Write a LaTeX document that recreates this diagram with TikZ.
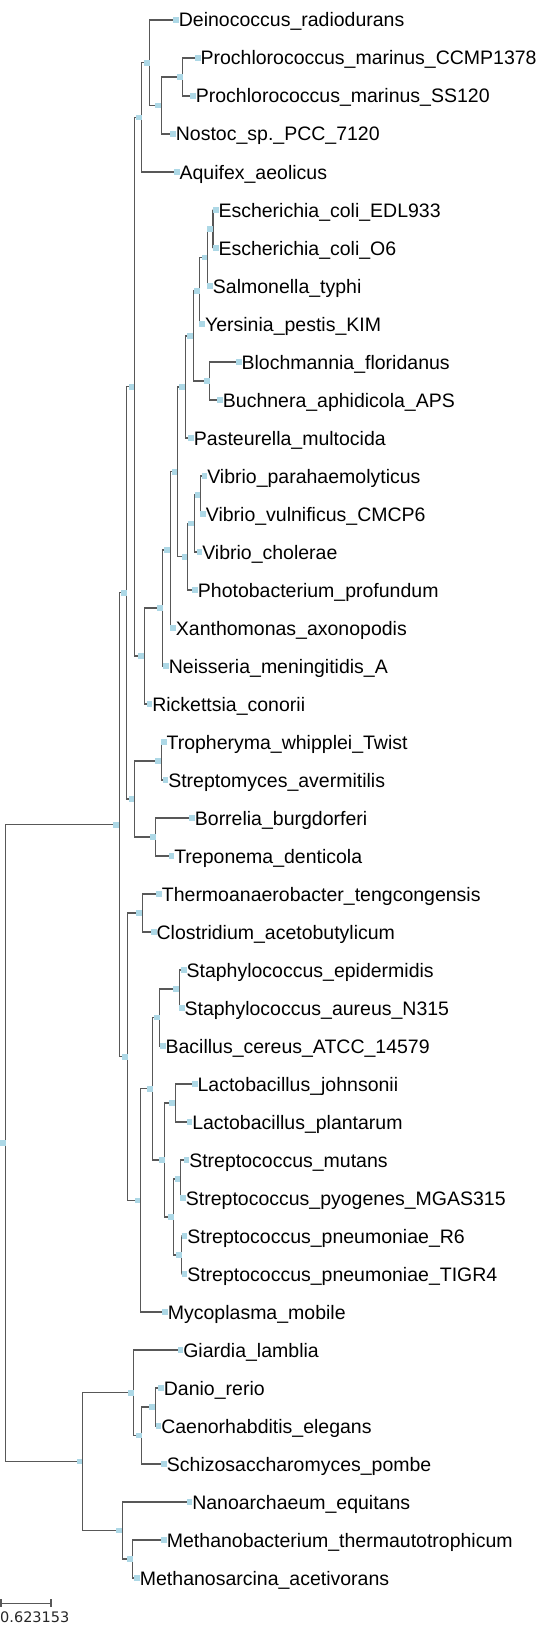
\documentclass[tikz,border=0pt]{standalone}
\usepackage{fontspec}
\setmainfont{Liberation Sans}
\newfontfamily\scalefnt{DejaVu Sans}
\usetikzlibrary{calc}
\definecolor{mkcol}{RGB}{173,216,230}
\definecolor{brcol}{RGB}{88,88,88}
\pgfdeclarelayer{bg}
\pgfsetlayers{bg,main}
\newcommand\leaf[4]{\node[mk] (#1) at (#2+2.75,#3) {};\node[lbl] (t#1) at ([yshift=-7pt]#1.east) {#4};}
\newcommand\inode[3]{\node[mk] (#1) at (#2-2.75,#3) {};}
\newcommand\br[2]{\begin{pgfonlayer}{bg}\draw[br] (#1.east) |- (#2.west);\end{pgfonlayer}}
\begin{document}
\begin{tikzpicture}[x=1pt,y=-1pt,
  mk/.style={fill=mkcol,draw=none,minimum size=5.7pt,inner sep=0pt,outer sep=0pt},
  lbl/.style={anchor=base west,inner sep=0pt,outer sep=0pt,font=\fontsize{19.5}{20}\selectfont},
  br/.style={draw=brcol,line width=1.2pt}]
\useasboundingbox (0,0) rectangle (538,1648);
% internal nodes
\inode{nroot}{5.7}{1143.2}
\inode{nbact}{119}{824.8}
\inode{nU}{126.7}{592.8}
\inode{nUa}{134.3}{386.7}
\inode{nB}{141.7}{117.4}
\inode{nA}{149.7}{62.75}
\inode{nN}{161}{105.5}
\inode{nP}{182.7}{77}
\inode{nR}{144}{656}
\inode{nG}{162.7}{608}
\inode{nGX}{170}{549.9}
\inode{nGG}{177.3}{471.8}
\inode{nEP}{185}{386.9}
\inode{nEN}{193}{335.9}
\inode{nY}{199.5}{290.75}
\inode{nS}{207.3}{257.5}
\inode{nE}{212.9}{229}
\inode{nBB}{209.7}{381}
\inode{nVP}{187.3}{556.75}
\inode{nV}{194}{523.5}
\inode{nVV}{200.3}{495}
\inode{nUb}{134.3}{799}
\inode{nTS}{161}{761}
\inode{nBT}{155.7}{837}
\inode{nLo}{127.7}{1056.7}
\inode{nTC}{142}{913}
\inode{nF}{140.3}{1200.4}
\inode{nK}{152.7}{1088.75}
\inode{nSB}{159.7}{1017.5}
\inode{nSt}{179}{989}
\inode{nLS}{164.7}{1160}
\inode{nLa}{175}{1103}
\inode{nST}{173.7}{1217}
\inode{nSMP}{180.3}{1179}
\inode{nPN}{181.7}{1255}
\inode{nEA}{82.3}{1461.6}
\inode{nEuk}{133.7}{1392.75}
\inode{nDCS}{141.7}{1435.5}
\inode{nDC}{155}{1407}
\inode{nAr}{122}{1530.5}
\inode{nMM}{132.7}{1559}
% leaves
\leaf{dein}{173.3}{20}{Deinococcus\_radiodurans}
\leaf{pcc}{195}{58}{Prochlorococcus\_marinus\_CCMP1378}
\leaf{pss}{190.3}{96}{Prochlorococcus\_marinus\_SS120}
\leaf{nos}{170.3}{134}{Nostoc\_sp.\_PCC\_7120}
\leaf{aqu}{174}{172}{Aquifex\_aeolicus}
\leaf{edl}{212.9}{210}{Escherichia\_coli\_EDL933}
\leaf{oSix}{212.9}{248}{Escherichia\_coli\_O6}
\leaf{sal}{207.3}{286}{Salmonella\_typhi}
\leaf{yer}{199.5}{324}{Yersinia\_pestis\_KIM}
\leaf{blo}{236}{362}{Blochmannia\_floridanus}
\leaf{buc}{217.3}{400}{Buchnera\_aphidicola\_APS}
\leaf{pas}{188.3}{438}{Pasteurella\_multocida}
\leaf{vpa}{201.7}{476}{Vibrio\_parahaemolyticus}
\leaf{vvu}{200.3}{514}{Vibrio\_vulnificus\_CMCP6}
\leaf{vch}{196.7}{552}{Vibrio\_cholerae}
\leaf{pho}{192.3}{590}{Photobacterium\_profundum}
\leaf{xan}{170.3}{628}{Xanthomonas\_axonopodis}
\leaf{nei}{163.3}{666}{Neisseria\_meningitidis\_A}
\leaf{ric}{146.7}{704}{Rickettsia\_conorii}
\leaf{tro}{161}{742}{Tropheryma\_whipplei\_Twist}
\leaf{stre}{162.7}{780}{Streptomyces\_avermitilis}
\leaf{bor}{189.3}{818}{Borrelia\_burgdorferi}
\leaf{tre}{168.7}{856}{Treponema\_denticola}
\leaf{ther}{156.3}{894}{Thermoanaerobacter\_tengcongensis}
\leaf{clo}{151}{932}{Clostridium\_acetobutylicum}
\leaf{sep}{181}{970}{Staphylococcus\_epidermidis}
\leaf{sau}{179}{1008}{Staphylococcus\_aureus\_N315}
\leaf{bce}{160}{1046}{Bacillus\_cereus\_ATCC\_14579}
\leaf{ljo}{192}{1084}{Lactobacillus\_johnsonii}
\leaf{lpl}{186.7}{1122}{Lactobacillus\_plantarum}
\leaf{smu}{183.7}{1160}{Streptococcus\_mutans}
\leaf{spy}{180.3}{1198}{Streptococcus\_pyogenes\_MGAS315}
\leaf{srsix}{181.7}{1236}{Streptococcus\_pneumoniae\_R6}
\leaf{sti}{181.7}{1274}{Streptococcus\_pneumoniae\_TIGR4}
\leaf{myc}{162.3}{1312}{Mycoplasma\_mobile}
\leaf{gia}{177.7}{1350}{Giardia\_lamblia}
\leaf{dan}{158.3}{1388}{Danio\_rerio}
\leaf{cae}{155.7}{1426}{Caenorhabditis\_elegans}
\leaf{sch}{161.3}{1464}{Schizosaccharomyces\_pombe}
\leaf{nan}{186.7}{1502}{Nanoarchaeum\_equitans}
\leaf{mbt}{161.3}{1540}{Methanobacterium\_thermautotrophicum}
\leaf{msa}{134.3}{1578}{Methanosarcina\_acetivorans}
% branches
\br{nroot}{nbact}\br{nroot}{nEA}
\br{nbact}{nU}\br{nbact}{nLo}
\br{nU}{nUa}\br{nU}{nUb}
\br{nUa}{nB}\br{nUa}{nR}
\br{nB}{nA}\br{nB}{aqu}
\br{nA}{dein}\br{nA}{nN}
\br{nN}{nP}\br{nN}{nos}
\br{nP}{pcc}\br{nP}{pss}
\br{nR}{nG}\br{nR}{ric}
\br{nG}{nGX}\br{nG}{nei}
\br{nGX}{nGG}\br{nGX}{xan}
\br{nGG}{nEP}\br{nGG}{nVP}
\br{nEP}{nEN}\br{nEP}{pas}
\br{nEN}{nY}\br{nEN}{nBB}
\br{nY}{nS}\br{nY}{yer}
\br{nS}{nE}\br{nS}{sal}
\br{nE}{edl}\br{nE}{oSix}
\br{nBB}{blo}\br{nBB}{buc}
\br{nVP}{nV}\br{nVP}{pho}
\br{nV}{nVV}\br{nV}{vch}
\br{nVV}{vpa}\br{nVV}{vvu}
\br{nUb}{nTS}\br{nUb}{nBT}
\br{nTS}{tro}\br{nTS}{stre}
\br{nBT}{bor}\br{nBT}{tre}
\br{nLo}{nTC}\br{nLo}{nF}
\br{nTC}{ther}\br{nTC}{clo}
\br{nF}{nK}\br{nF}{myc}
\br{nK}{nSB}\br{nK}{nLS}
\br{nSB}{nSt}\br{nSB}{bce}
\br{nSt}{sep}\br{nSt}{sau}
\br{nLS}{nLa}\br{nLS}{nST}
\br{nLa}{ljo}\br{nLa}{lpl}
\br{nST}{nSMP}\br{nST}{nPN}
\br{nSMP}{smu}\br{nSMP}{spy}
\br{nPN}{srsix}\br{nPN}{sti}
\br{nEA}{nEuk}\br{nEA}{nAr}
\br{nEuk}{gia}\br{nEuk}{nDCS}
\br{nDCS}{nDC}\br{nDCS}{sch}
\br{nDC}{dan}\br{nDC}{cae}
\br{nAr}{nan}\br{nAr}{nMM}
\br{nMM}{mbt}\br{nMM}{msa}
% scale bar
\coordinate (sba) at (1,1603.3);
\coordinate (sbb) at (51,1603.3);
\draw[br] (sba) -- (sbb);
\draw[br] ([yshift=4pt]sba) -- ([yshift=-4pt]sba);
\draw[br] ([yshift=4pt]sbb) -- ([yshift=-4pt]sbb);
\node[anchor=base west,inner sep=0pt,text=black!85,font=\scalefnt\fontsize{14.5}{16}\selectfont] (sbl) at (0,1622) {0.623153};
\end{tikzpicture}
\end{document}
